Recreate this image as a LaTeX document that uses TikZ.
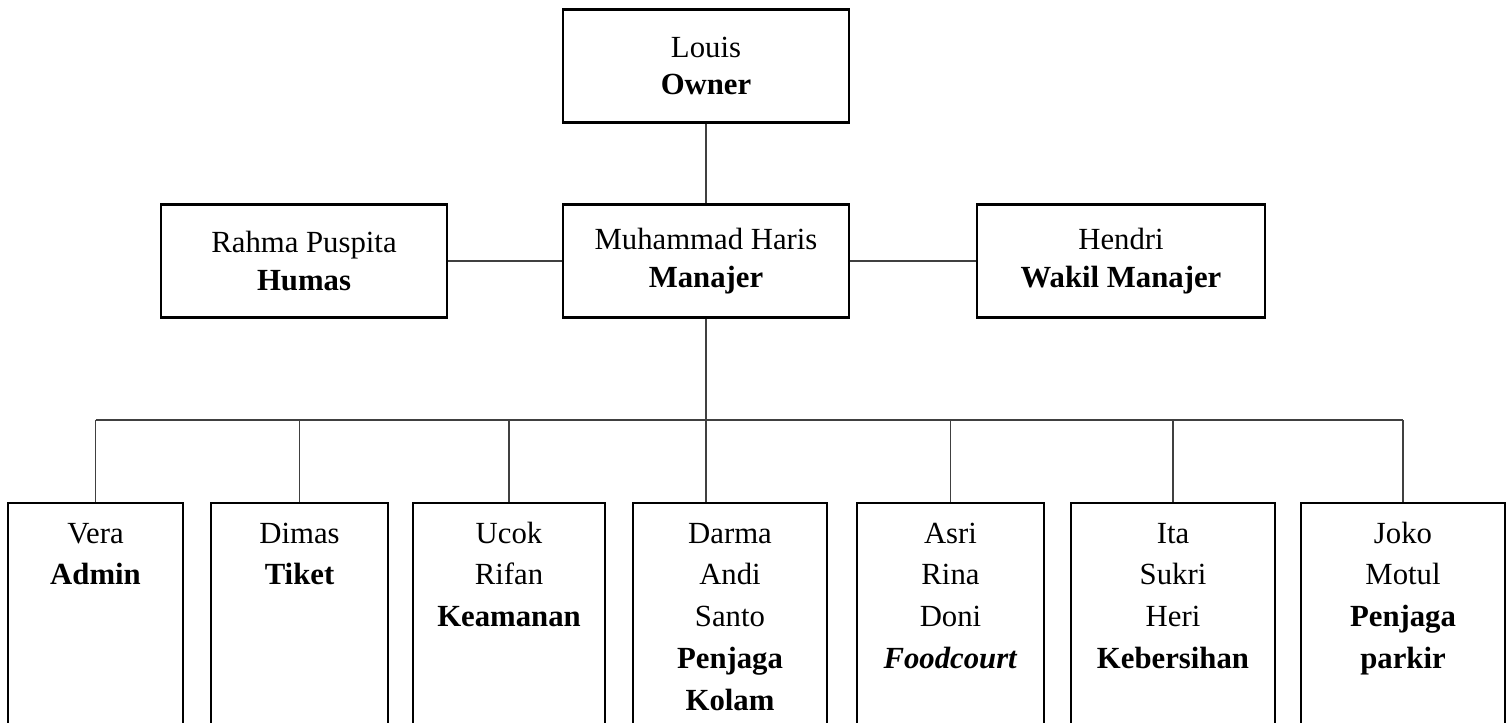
\documentclass[tikz,border=0pt]{standalone}
\usepackage{fontspec}
\setmainfont{Liberation Serif}
\newcommand{\isi}[1]{\begin{tabular}[t]{@{}c@{}}#1\end{tabular}}

\begin{document}
\begin{tikzpicture}[x=0.02cm,y=-0.02cm,
 jabatan/.style={draw,line width=1.3pt,minimum height=2.26cm,align=center,inner sep=0pt,font=\fontsize{17.5}{21.5}\selectfont},
 staf/.style={draw,line width=1.3pt,anchor=north,inner sep=0pt,text height=0.8cm,text depth=4.4cm,font=\fontsize{17.5}{23.8}\selectfont},
 garis/.style={line width=0.7pt,draw=black!75}]
 \useasboundingbox (0,0) rectangle (1507,723); %全体の大きさ
 \clip (0,0) rectangle (1507,723); %下の箱は切れる
 \node[jabatan,minimum width=5.72cm] (owner) at (706,66) {Louis\\\textbf{Owner}}; %オーナー
 \node[jabatan,minimum width=5.72cm] (manajer) at (706,261) {Muhammad Haris\\\textbf{Manajer}}; %マネージャー
 \node[jabatan,minimum width=5.72cm] (humas) at (304,261) {Rahma Puspita\\\textbf{Humas}}; %広報
 \node[jabatan,minimum width=5.76cm] (wakil) at (1121,261) {Hendri\\\textbf{Wakil Manajer}}; %副マネージャー
 \node[staf,minimum width=3.5cm] (admin) at (95.5,502) {\isi{Vera\\\textbf{Admin}}}; %事務
 \node[staf,minimum width=3.54cm] (tiket) at (299.5,502) {\isi{Dimas\\\textbf{Tiket}}}; %チケット
 \node[staf,minimum width=3.84cm] (keamanan) at (509,502) {\isi{Ucok\\Rifan\\\textbf{Keamanan}}}; %警備
 \node[staf,minimum width=3.88cm] (kolam) at (730,502) {\isi{Darma\\Andi\\Santo\\\textbf{Penjaga}\\\textbf{Kolam}}}; %プール
 \node[staf,minimum width=3.74cm] (foodcourt) at (950.5,502) {\isi{Asri\\Rina\\Doni\\\textbf{\textit{Foodcourt}}}}; %フードコート
 \node[staf,minimum width=4.08cm] (kebersihan) at (1173,502) {\isi{Ita\\Sukri\\Heri\\\textbf{Kebersihan}}}; %清掃
 \node[staf,minimum width=4.08cm] (parkir) at (1403,502) {\isi{Joko\\Motul\\\textbf{Penjaga}\\\textbf{parkir}}}; %駐車場
 \coordinate (bus) at (0,420); %横線の高さ
 \draw[garis] (owner) -- (manajer); %オーナーとマネージャー
 \draw[garis] (humas) -- (manajer); %広報
 \draw[garis] (manajer) -- (wakil); %副マネージャー
 \draw[garis] (manajer.south) -- (manajer.south |- kolam.north); %縦の幹線
 \draw[garis] (admin.north |- bus) -- (parkir.north |- bus); %横線
 \foreach \n in {admin,tiket,keamanan,foodcourt,kebersihan,parkir}
  \draw[garis] (\n.north |- bus) -- (\n.north); %各部署への線
\end{tikzpicture}
\end{document}
